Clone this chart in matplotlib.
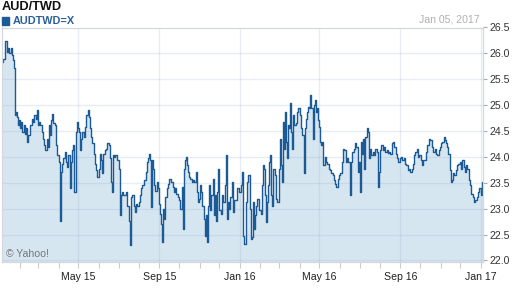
import matplotlib
matplotlib.use("Agg")
import matplotlib.pyplot as plt
import matplotlib.dates as mdates
from matplotlib.patches import Rectangle
import numpy as np
import pandas as pd

plt.rcParams['font.family'] = ['Liberation Sans', 'DejaVu Sans']

title = "AUD/TWD"
symbol = "AUDTWD=X"
as_of = "Jan 05, 2017"
credit = "\u00a9 Yahoo!"
start_date = "2015-01-05"
end_date = "2017-01-05"

day_offsets = [
    0, 3, 6, 8, 10, 12, 14, 15, 17, 18,
    20, 21, 23, 24, 26, 27, 29, 30, 32, 34,
    36, 38, 39, 41, 44, 46, 48, 50, 52, 53,
    55, 57, 59, 61, 63, 65, 67, 69, 71, 73,
    74, 76, 77, 79, 81, 83, 85, 87, 88, 90,
    92, 94, 96, 98, 100, 102, 104, 106, 108, 109,
    111, 113, 115, 116, 118, 119, 121, 123, 126, 127,
    129, 131, 132, 134, 136, 138, 140, 142, 144, 146,
    148, 149, 151, 153, 155, 157, 159, 161, 163, 165,
    167, 168, 169, 171, 173, 176, 178, 180, 181, 183,
    185,
    187, 189, 192, 194, 195, 197, 199, 201, 202, 204,
    207, 209, 211, 212, 214, 217, 219, 221, 223, 225,
    226, 227, 229, 230, 232, 234, 236, 238, 240, 241,
    243, 244, 245, 247, 249, 251, 253, 255, 258, 260,
    262, 264, 266, 268, 270, 272, 274, 275, 277, 278,
    280, 281, 283, 285, 287, 289, 291, 293, 295, 296,
    298, 299, 302, 304, 305, 308, 309, 311, 312, 314,
    315, 317, 319, 321, 322, 324, 326, 328, 329, 331,
    333, 335, 337, 339, 341, 342, 344, 346, 348, 350,
    352, 354, 356, 359, 361, 364, 366, 367,
    369, 371, 373, 375, 377, 378, 380, 382, 384, 385,
    387, 389, 392, 394, 396, 397, 399, 401, 402, 404,
    405, 407, 408, 410, 411, 413, 415, 417, 419, 421,
    423, 424, 426, 427, 429, 430, 432, 434, 435, 437,
    438, 440, 441, 443, 445, 447, 449, 451, 453, 455,
    457, 459, 460, 462, 464, 466, 468, 469, 471, 473,
    474, 476, 478, 479, 481, 482, 484, 485, 487, 489,
    491, 493, 495, 497, 499, 501, 503, 505, 507, 509,
    511, 513, 515, 517, 519, 521, 523, 525, 527, 529,
    531, 533, 535, 537, 539, 541, 543,
    544, 546, 547, 549, 551, 553, 555, 557, 559, 560,
    562, 564, 566, 568, 570, 572, 574, 575, 577, 579,
    581, 583, 585, 587, 589, 591, 593, 595, 597, 599,
    601, 603, 605, 607, 609, 611, 613, 615, 617, 619,
    621, 623, 625, 627, 629, 631, 633, 635, 637, 639,
    641, 643, 645, 647, 650, 651, 654, 656, 658, 660,
    662, 664, 666, 668, 670, 672, 673, 675, 677, 679,
    681, 682, 684, 686, 688, 690, 692, 694, 696, 698,
    700, 702, 704, 706, 708, 710, 712, 714, 716, 718,
    720, 723, 724, 726, 728, 731,
]

rates = [
    25.84, 25.90, 26.23, 26.03, 26.10, 26.00, 26.11, 25.97, 25.87, 25.71,
    25.03, 24.81, 24.87, 24.77, 24.61, 24.71, 24.55, 24.68, 24.48, 24.61,
    24.45, 24.55, 24.29, 24.42, 24.61, 24.74, 24.68, 24.81, 24.74, 24.90,
    24.61, 24.68, 24.61, 24.48, 24.35, 24.23, 24.13, 24.35, 24.19, 24.61,
    24.42, 24.71, 24.82, 24.65, 24.61, 24.23, 24.03, 23.90, 22.77, 23.71,
    23.87, 23.97, 24.10, 23.90, 23.81, 24.03, 23.39, 23.90, 24.13, 24.23,
    23.32, 24.48, 24.68, 24.55, 24.48, 24.13, 24.35, 24.48, 24.39, 24.58,
    24.81, 24.90, 24.77, 24.55, 24.39, 24.26, 24.06, 23.87, 23.74, 23.61,
    23.77, 24.06, 23.94, 23.68, 24.06, 24.13, 24.16, 24.26, 24.23, 23.97,
    23.52, 23.32, 24.03, 24.00, 24.03, 23.94, 23.77, 22.87, 23.26, 23.32,
    23.26,
    23.26, 23.32, 23.06, 22.77, 22.29, 23.23, 23.26, 23.06, 22.94, 23.10,
    23.06, 23.13, 23.26, 23.39, 23.45, 23.55, 23.71, 23.90, 23.97, 24.06,
    23.94, 23.03, 23.94, 23.77, 23.45, 23.35, 23.52, 23.39, 23.10, 22.90,
    22.71, 22.35, 23.00, 22.81, 23.23, 23.39, 23.48, 23.58, 23.52, 23.42,
    23.32, 23.39, 23.29, 23.23, 23.16, 23.00, 23.42, 22.61, 23.77, 23.94,
    24.00, 23.84, 23.71, 23.61, 23.58, 23.52, 23.55, 23.52, 23.71, 23.32,
    23.13, 23.19, 23.45, 23.32, 23.06, 22.81, 22.48, 22.87, 22.35, 23.06,
    23.45, 22.97, 23.26, 23.58, 22.87, 23.26, 22.77, 23.32, 23.77, 22.97,
    22.90, 23.26, 23.13, 23.45, 24.03, 22.81, 23.13, 23.00, 23.23, 23.52,
    22.94, 23.16, 23.16, 23.39, 23.32, 23.45, 23.71, 22.48,
    22.32, 23.13, 23.52, 23.65, 23.00, 22.42, 22.45, 23.13, 22.61, 22.87,
    23.06, 23.19, 22.97, 22.90, 23.45, 23.84, 23.77, 23.26, 22.74, 23.13,
    23.45, 23.90, 24.03, 23.26, 23.06, 23.77, 23.65, 23.19, 23.13, 23.77,
    24.35, 23.84, 23.52, 24.68, 24.16, 24.87, 24.29, 23.97, 24.61, 24.55,
    25.05, 24.48, 24.16, 24.81, 24.61, 24.65, 24.87, 24.94, 24.81, 24.55,
    24.42, 23.68, 24.55, 24.74, 24.87, 24.97, 24.94, 25.19, 24.94, 24.35,
    25.00, 25.10, 24.87, 24.94, 24.71, 24.58, 24.29, 24.23, 24.29, 23.84,
    24.00, 23.90, 23.87, 23.77, 23.74, 23.68, 23.65, 23.55, 23.48, 23.42,
    23.58, 23.65, 23.68, 23.90, 24.16, 24.13, 23.90, 23.97, 23.90, 23.26,
    23.90, 24.10, 24.16, 24.26, 24.19, 23.71, 23.90,
    23.32, 24.29, 24.06, 24.35, 23.77, 24.39, 24.55, 24.48, 23.97, 24.16,
    24.03, 24.10, 24.03, 24.16, 24.10, 23.42, 23.71, 24.13, 24.23, 24.13,
    24.19, 24.10, 24.13, 24.08, 24.10, 24.06, 24.26, 24.29, 24.19, 24.06,
    23.97, 23.90, 23.97, 24.00, 23.94, 23.97, 23.87, 23.84, 23.74, 23.77,
    23.71, 23.77, 23.87, 24.03, 24.10, 24.16, 24.00, 24.03, 23.94, 23.84,
    23.94, 23.94, 24.10, 24.23, 24.35, 24.32, 24.19, 24.10, 24.16, 24.06,
    24.03, 24.13, 24.19, 24.26, 24.29, 24.39, 24.32, 24.26, 24.19, 24.06,
    23.74, 23.52, 23.55, 23.68, 23.65, 23.74, 23.84, 23.87, 23.90, 23.77,
    23.94, 23.81, 23.71, 23.84, 23.77, 23.55, 23.45, 23.29, 23.23, 23.13,
    23.16, 23.23, 23.32, 23.39, 23.26, 23.52,
]

y_ticks = [22.0, 22.5, 23.0, 23.5, 24.0, 24.5, 25.0, 25.5, 26.0, 26.5]
y_min, y_max = 21.97, 26.5

LINE = '#1b5a95'
FILL = '#d6e6f1'
GRID = '#8ca5c8'

dates = pd.Timestamp(start_date) + pd.to_timedelta(day_offsets, unit='D')

fig = plt.figure(figsize=(5.12, 2.88), dpi=100)
W, H = 512.0, 288.0
ax = fig.add_axes([2 / W, 1 - 262 / H, (483.3 - 2) / W, (262 - 27.5) / H])

ax.fill_between(dates, rates, y_min, color=FILL, linewidth=0, zorder=1,
                step='mid')
ax.plot(dates, rates, color=LINE, linewidth=1.0, zorder=2,
        drawstyle='steps-mid')

ax.set_xlim(pd.Timestamp(start_date), pd.Timestamp(end_date))
ax.set_ylim(y_min, y_max)

ax.xaxis.set_major_locator(mdates.MonthLocator(bymonth=[1, 5, 9]))
ax.xaxis.set_minor_locator(mdates.MonthLocator())
ax.xaxis.set_major_formatter(mdates.DateFormatter('%b %y'))

ax.yaxis.tick_right()
ax.set_yticks(y_ticks)
ax.set_yticklabels([f"{v:.1f}" for v in y_ticks])

ax.tick_params(axis='y', which='both', direction='out', length=3, width=0.8,
               color='#aaaaaa', labelsize=7.6, labelcolor='#333333', pad=1.5)
ax.tick_params(axis='x', which='both', direction='out', length=4, width=0.8,
               color='#cccccc', labelsize=7.6, labelcolor='#222222', pad=3)

ax.set_axisbelow('line')
ax.grid(True, which='major', color=GRID, alpha=0.2, linewidth=1.0)

for s in ax.spines.values():
    s.set_color('#d4d8de')
    s.set_linewidth(0.9)

fig.text(2 / W, 1 - 6.5 / H, title, fontsize=9.2, fontweight='bold',
         color='#111111', ha='left', va='center')
fig.patches.append(Rectangle((2 / W, 1 - 25 / H), 7 / W, 8 / H,
                             transform=fig.transFigure, color=LINE))
fig.text(13 / W, 1 - 20.7 / H, symbol, fontsize=7.8, fontweight='bold',
         color='#2a6099', ha='left', va='center')
fig.text(480 / W, 1 - 20 / H, as_of, fontsize=7.6, color='#b0b0b0',
         ha='right', va='center')
ax.text(0.008, 0.035, credit, transform=ax.transAxes, fontsize=7.6,
        color='#777777', ha='left', va='center')

fig.savefig('out.png', dpi=100)
